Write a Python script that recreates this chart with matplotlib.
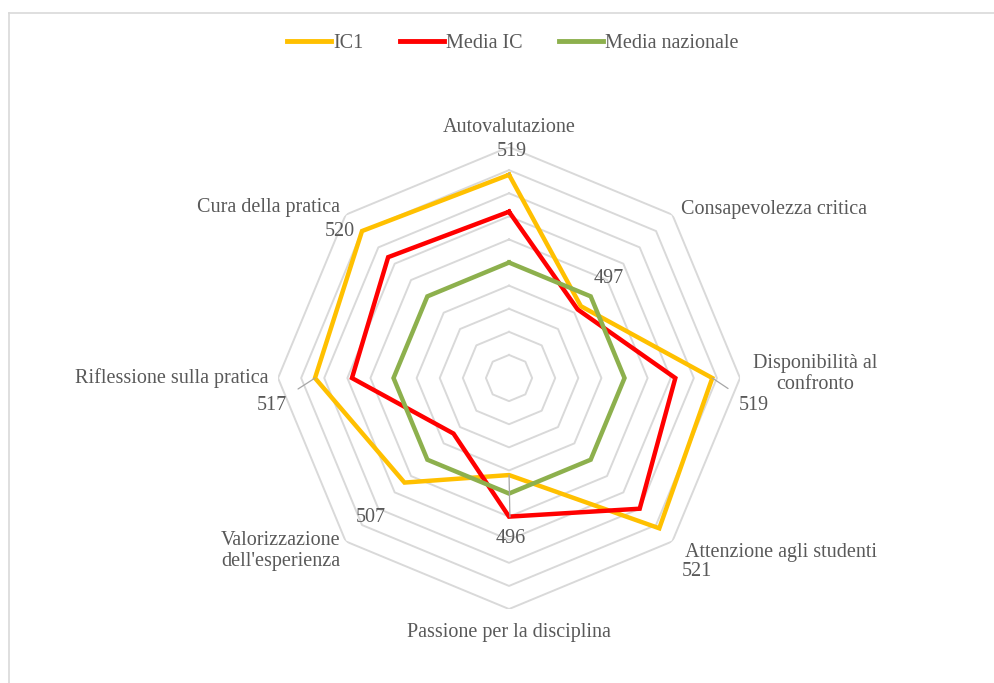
import numpy as np
import matplotlib
matplotlib.use("Agg")
import matplotlib.pyplot as plt
from matplotlib.lines import Line2D

plt.rcParams['font.family'] = ['Liberation Serif', 'DejaVu Serif']

categories = ["Autovalutazione", "Consapevolezza critica", "Disponibilità al\nconfronto",
              "Attenzione agli studenti", "Passione per la disciplina",
              "Valorizzazione\ndell'esperienza", "Riflessione sulla pratica", "Cura della pratica"]
ic1 = [519, 497, 519, 521, 496, 507, 517, 520]
media_ic = [511, 496, 511, 515, 505, 492, 509, 512]
media_naz = [500, 500, 500, 500, 500, 500, 500, 500]
series_names = ["IC1", "Media IC", "Media nazionale"]
r_min, r_max, r_step = 475, 525, 5

text_col = "#595959"
colors = ["#FFC000", "#FF0000", "#8DB04D"]
fs = 14.5

fig = plt.figure(figsize=(9.94, 6.83), dpi=100)
ax = fig.add_axes([0.2797, 0.1083, 0.4648, 0.6764], projection="polar")
ax.set_theta_zero_location("N")
ax.set_theta_direction(-1)
ax.set_ylim(r_min, r_max)
ax.grid(False)
ax.spines["polar"].set_visible(False)
ax.set_xticks([])
ax.set_yticks([])
ax.patch.set_alpha(0)

n = len(categories)
theta = np.arange(n) * 2 * np.pi / n
theta_c = np.append(theta, theta[0])

# octagonal grid
for r in np.arange(r_min + r_step, r_max + 1, r_step):
    ax.plot(theta_c, [r] * (n + 1), color="#d9d9d9", lw=1.4, zorder=1)

for vals, col in zip([ic1, media_ic, media_naz], colors):
    ax.plot(theta_c, list(vals) + [vals[0]], color=col, lw=3.2, zorder=3,
            solid_joinstyle="miter")

# category labels (offsets in points from the outer ring vertex)
cat_pos = [((0, 14), "center"), ((6, 4), "left"), ((9, 3), "left"), ((9, -8), "left"),
           ((0, -17), "center"), ((-4, -7), "right"), ((-7, 0), "right"), ((-4, 5), "right")]
for t, lab, (off, ha) in zip(theta, categories, cat_pos):
    ax.annotate(lab, xy=(t, r_max), xytext=off, textcoords="offset points",
                ha=ha, va="center", fontsize=fs, color=text_col,
                multialignment="center", linespacing=1.1, annotation_clip=False)

# data labels for IC1 with leader lines
lab_off = [(2, 17), (20, 20), (30, -20), (27, -31), (1, -46), (-24, -25), (-31, -20), (-16, 0)]
leader = [True, False, True, False, True, False, True, False]
for t, v, off, ld in zip(theta, ic1, lab_off, leader):
    ap = dict(arrowstyle="-", color="#a6a6a6", lw=0.9, shrinkA=7, shrinkB=0) if ld else None
    ax.annotate(str(v), xy=(t, v), xytext=off, textcoords="offset points",
                ha="center", va="center", fontsize=fs, color=text_col,
                arrowprops=ap, annotation_clip=False, zorder=5)

handles = [Line2D([0], [0], color=c, lw=3.5) for c in colors]
fig.legend(handles, series_names, loc="center", bbox_to_anchor=(0.516, 0.937), ncol=3,
           frameon=False, fontsize=fs, labelcolor=text_col, handlelength=2.2,
           handletextpad=0.1, columnspacing=1.8)

# chart area border (top and left edges)
fig.add_artist(Line2D([9 / 994, 1.0], [1 - 13 / 683] * 2, color="#d9d9d9", lw=1.2,
                      transform=fig.transFigure))
fig.add_artist(Line2D([9 / 994] * 2, [0, 1 - 13 / 683], color="#d9d9d9", lw=1.2,
                      transform=fig.transFigure))

fig.savefig("out.png", dpi=100)
